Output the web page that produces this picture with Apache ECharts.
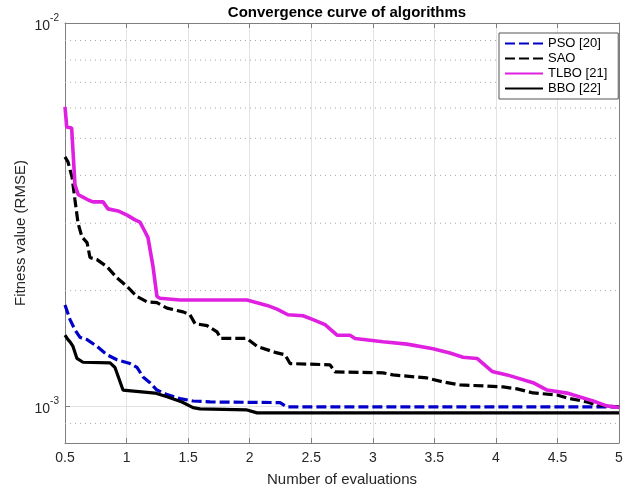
<!DOCTYPE html>
<html>
<head>
<meta charset="utf-8">
<script src="https://cdn.jsdelivr.net/npm/echarts@6/dist/echarts.min.js"></script>
<style>
  html, body { margin: 0; padding: 0; background: #fff; }
  #chart { width: 628px; height: 486px; }
</style>
</head>
<body>
<div id="chart"></div>
<script>
// ---- data (x = number of evaluations, y = RMSE) ----
const seriesNames = ['PSO [20]', 'SAO', 'TLBO [21]', 'BBO [22]'];

const psoX = [0.5, 0.541, 0.581, 0.622, 0.679, 0.76, 0.841, 0.922, 1.028, 1.085, 1.134, 1.19, 1.247, 1.329, 1.434, 1.54, 1.678, 2.247, 2.303, 5.0];
const psoY = [0.001835, 0.00168, 0.00158, 0.00151, 0.00149, 0.00143, 0.00136, 0.00132, 0.00129, 0.00126, 0.00119, 0.00115, 0.0011, 0.00107, 0.001045, 0.00103, 0.001024, 0.00102, 0.000994, 0.000994];

const saoX = [0.5, 0.524, 0.557, 0.581, 0.606, 0.638, 0.679, 0.703, 0.76, 0.841, 0.922, 1.004, 1.085, 1.166, 1.247, 1.329, 1.459, 1.515, 1.556, 1.654, 1.735, 1.767, 1.978, 2.06, 2.206, 2.287, 2.328, 2.653, 2.693, 3.083, 3.164, 3.44, 3.571, 3.709, 4.058, 4.172, 4.302, 4.497, 4.578, 4.74, 4.822, 4.984, 5.0];
const saoY = [0.00447, 0.00434, 0.00396, 0.00345, 0.003, 0.00276, 0.00267, 0.00244, 0.00241, 0.00231, 0.00216, 0.00205, 0.00193, 0.00187, 0.00186, 0.0018, 0.00176, 0.00173, 0.00164, 0.00162, 0.00156, 0.0015, 0.0015, 0.00143, 0.00138, 0.00136, 0.00129, 0.00128, 0.001227, 0.00122, 0.001205, 0.001183, 0.001155, 0.001135, 0.001121, 0.001108, 0.001081, 0.001068, 0.001049, 0.001024, 0.001006, 0.000994, 0.00099];

const tlboX = [0.5, 0.514, 0.554, 0.581, 0.608, 0.646, 0.689, 0.727, 0.809, 0.849, 0.931, 1.004, 1.069, 1.109, 1.15, 1.174, 1.215, 1.247, 1.272, 1.434, 1.978, 2.141, 2.222, 2.311, 2.433, 2.515, 2.612, 2.71, 2.815, 2.856, 3.083, 3.278, 3.489, 3.627, 3.733, 3.847, 3.969, 4.091, 4.302, 4.416, 4.578, 4.789, 4.9, 5.0];
const tlboY = [0.00604, 0.00535, 0.00532, 0.00378, 0.00356, 0.00351, 0.00345, 0.00341, 0.00341, 0.00327, 0.00323, 0.00315, 0.00306, 0.00302, 0.00285, 0.00275, 0.00231, 0.00193, 0.00191, 0.00189, 0.00189, 0.00183, 0.00179, 0.00173, 0.00172, 0.00168, 0.00163, 0.00153, 0.00153, 0.0015, 0.00147, 0.00145, 0.00141, 0.001375, 0.00134, 0.00133, 0.00123, 0.001205, 0.00115, 0.0011, 0.00108, 0.00103, 0.001, 0.00099];

const bboX = [0.5, 0.524, 0.541, 0.565, 0.597, 0.646, 0.866, 0.906, 0.971, 0.987, 1.231, 1.329, 1.45, 1.54, 1.597, 1.978, 2.06, 5.0];
const bboY = [0.00153, 0.00149, 0.00147, 0.00143, 0.00133, 0.0013, 0.001295, 0.00126, 0.0011, 0.00109, 0.00108, 0.001056, 0.001024, 0.00099, 0.000982, 0.000976, 0.000959, 0.000959];

// axis ticks
const xTicks = [0.5, 1, 1.5, 2, 2.5, 3, 3.5, 4, 4.5, 5];
const yMin = 0.0008, yMax = 0.01;
const yMinorGrid = [0.0009, 0.002, 0.003, 0.004, 0.005, 0.006, 0.007, 0.008, 0.009];

// ---- helpers ----
function zip(xs, ys) { return xs.map((x, i) => [x, ys[i]]); }

function powLabel(v) {
    const e = Math.log10(v);
    const r = Math.round(e);
    if (Math.abs(e - r) > 1e-6) return '';
    return '{b|10}{s|' + r + '}';
}

const FONT = 'Liberation Sans, Arial, Helvetica, sans-serif';
const AXIS_COL = '#7f7f7f';

const chart = echarts.init(document.getElementById('chart'), null, { renderer: 'canvas' });

const lineBase = { type: 'line', symbol: 'none', showSymbol: false, smooth: false, animation: false };

// dotted minor grid: one flat two-point line per minor value, across the full x range
const minorGridSeries = yMinorGrid.map(v => ({
    type: 'line',
    data: [[xTicks[0], v], [xTicks[xTicks.length - 1], v]],
    silent: true,
    symbol: 'none',
    animation: false,
    lineStyle: { type: [1, 4], color: '#a8a8a8', width: 1 },
    z: 1
}));

const option = {
    backgroundColor: '#ffffff',
    animation: false,
    title: {
        text: 'Convergence curve of algorithms',
        left: 342,
        textAlign: 'center',
        top: 0,
        textStyle: { fontFamily: FONT, fontSize: 15, fontWeight: 'bold', color: '#000' }
    },
    legend: {
        orient: 'vertical',
        left: 499,
        top: 33,
        data: seriesNames,
        itemWidth: 38,
        itemHeight: 10,
        itemGap: 2,
        padding: [4, 11, 4, 5],
        backgroundColor: '#fff',
        borderColor: '#555',
        borderWidth: 1,
        itemStyle: { opacity: 0 },
        textStyle: { fontFamily: FONT, fontSize: 13, color: '#000' }
    },
    grid: { left: 65, right: 9, top: 23, bottom: 43, containLabel: false, outerBoundsMode: 'none' },
    xAxis: [{
        type: 'value',
        min: 0.5,
        max: 5,
        interval: 0.5,
        name: 'Number of evaluations',
        nameLocation: 'middle',
        nameGap: 29,
        nameMoveOverlap: false,
        nameTextStyle: { fontFamily: FONT, fontSize: 15, color: '#262626' },
        axisLine: { show: true, onZero: false, lineStyle: { color: AXIS_COL, width: 1 } },
        axisTick: { show: true, inside: true, length: 5, lineStyle: { color: AXIS_COL } },
        axisLabel: {
            fontFamily: FONT, fontSize: 14, color: '#262626', margin: 8,
            showMinLabel: true, showMaxLabel: true,
            formatter: v => xTicks.includes(v) ? String(v) : ''
        },
        splitLine: { show: true, lineStyle: { color: '#e3e3e3', width: 1 } }
    }, {
        type: 'value',
        position: 'top',
        min: 0.5,
        max: 5,
        interval: 0.5,
        axisLine: { show: true, onZero: false, lineStyle: { color: AXIS_COL, width: 1 } },
        axisTick: { show: true, inside: true, length: 5, lineStyle: { color: AXIS_COL } },
        axisLabel: { show: false },
        splitLine: { show: false }
    }],
    yAxis: [{
        type: 'log',
        logBase: 10,
        min: yMin,
        max: yMax,
        name: 'Fitness value (RMSE)',
        nameLocation: 'middle',
        nameGap: 37,
        nameMoveOverlap: false,
        nameTextStyle: { fontFamily: FONT, fontSize: 15, color: '#262626' },
        axisLine: { show: true, onZero: false, lineStyle: { color: AXIS_COL, width: 1 } },
        axisTick: { show: true, inside: true, length: 5, lineStyle: { color: AXIS_COL } },
        axisLabel: {
            fontFamily: FONT, fontSize: 14, color: '#262626', margin: 6,
            formatter: powLabel,
            rich: {
                b: { fontFamily: FONT, fontSize: 14, color: '#262626', verticalAlign: 'bottom', lineHeight: 20 },
                s: { fontFamily: FONT, fontSize: 10, color: '#262626', verticalAlign: 'top', lineHeight: 20, padding: [0, 0, 6, 0] }
            }
        },
        splitLine: { show: true, lineStyle: { color: '#e3e3e3', width: 1 } }
    }, {
        type: 'log',
        logBase: 10,
        position: 'right',
        min: yMin,
        max: yMax,
        axisLine: { show: true, onZero: false, lineStyle: { color: AXIS_COL, width: 1 } },
        axisTick: { show: true, inside: true, length: 5, lineStyle: { color: AXIS_COL } },
        axisLabel: { show: false },
        splitLine: { show: false }
    }],
    series: minorGridSeries.concat([
        Object.assign({}, lineBase, {
            name: seriesNames[0],
            data: zip(psoX, psoY),
            lineStyle: { color: '#0000c8', width: 3.2, type: [10, 4] },
            itemStyle: { color: '#0000c8' },
            z: 3
        }),
        Object.assign({}, lineBase, {
            name: seriesNames[1],
            data: zip(saoX, saoY),
            lineStyle: { color: '#000000', width: 3.2, type: [10, 4] },
            itemStyle: { color: '#000000' },
            z: 3
        }),
        Object.assign({}, lineBase, {
            name: seriesNames[2],
            data: zip(tlboX, tlboY),
            lineStyle: { color: '#e020e0', width: 3.6 },
            itemStyle: { color: '#e020e0' },
            z: 3
        }),
        Object.assign({}, lineBase, {
            name: seriesNames[3],
            data: zip(bboX, bboY),
            lineStyle: { color: '#000000', width: 3.2 },
            itemStyle: { color: '#000000' },
            z: 3
        })
    ])
};

chart.setOption(option);
</script>
</body>
</html>
